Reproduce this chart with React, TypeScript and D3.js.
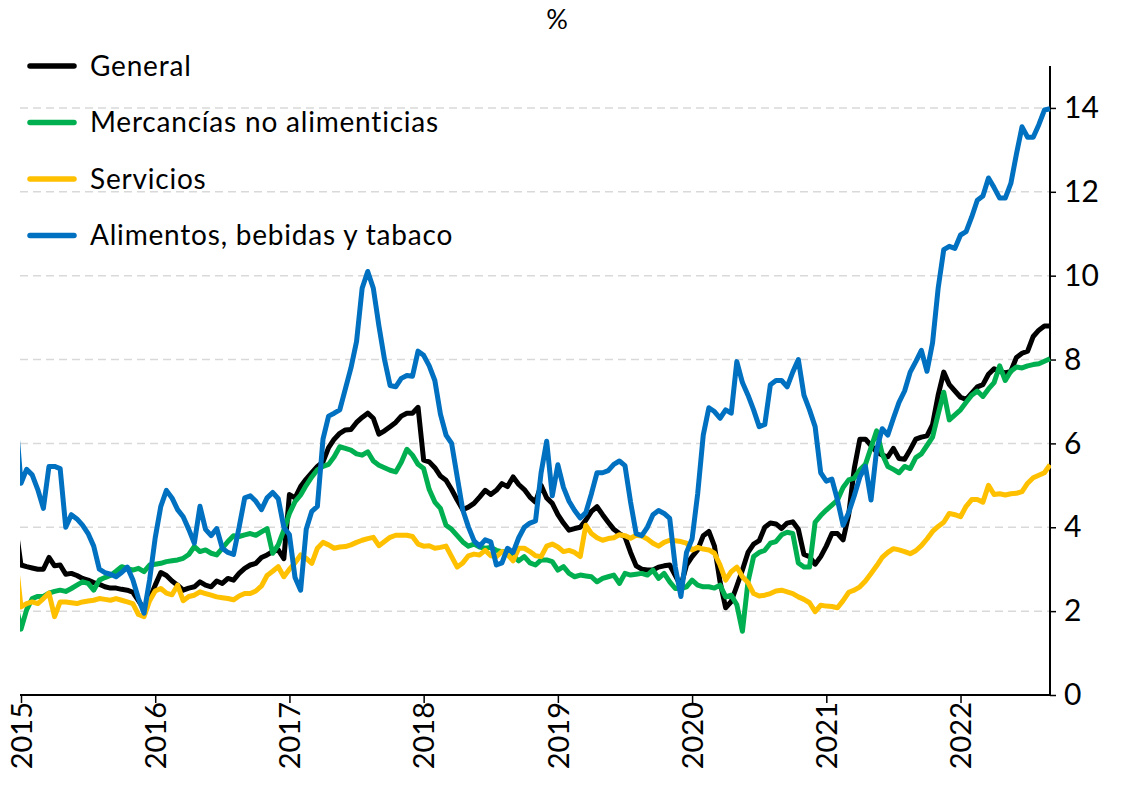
import { useEffect, useRef } from 'react';
import * as d3 from 'd3';

// variación anual en %, cifras quincenales
// el primer valor de cada serie es la 2a quincena de dic-2014 (queda recortado en el borde)
const general = [4.06,
  3.1, 3.06, 3.03, 3.0, 3.0, 3.28, 3.08, 3.1, 2.88, 2.9, 2.85, 2.78, 2.74, 2.68, 2.64, 2.58, 2.55, 2.55, 2.52, 2.5, 2.45, 2.25, 2.05, 2.3,
  2.62, 2.92, 2.85, 2.72, 2.62, 2.5, 2.55, 2.58, 2.7, 2.62, 2.58, 2.72, 2.66, 2.78, 2.74, 2.9, 3.02, 3.1, 3.14, 3.28, 3.34, 3.42, 3.46, 3.25,
  4.78, 4.7, 4.97, 5.15, 5.3, 5.45, 5.56, 5.9, 6.1, 6.24, 6.32, 6.33, 6.5, 6.62, 6.72, 6.6, 6.22, 6.3, 6.4, 6.5, 6.65, 6.72, 6.72, 6.86,
  5.6, 5.56, 5.42, 5.22, 5.12, 4.9, 4.65, 4.42, 4.48, 4.57, 4.72, 4.88, 4.78, 4.88, 5.04, 4.97, 5.2, 5.02, 4.9, 4.72, 4.6, 5.0, 4.7, 4.57,
  4.3, 4.1, 3.93, 3.97, 4.0, 4.17, 4.38, 4.49, 4.3, 4.12, 3.95, 3.85, 3.77, 3.4, 3.08, 3.0, 2.98, 2.98, 3.05, 3.08, 3.1, 2.85, 2.6, 3.1,
  3.3, 3.46, 3.8, 3.9, 3.55, 2.7, 2.08, 2.23, 2.6, 2.98, 3.4, 3.6, 3.68, 4.0, 4.1, 4.08, 3.97, 4.1, 4.13, 3.95, 3.35, 3.3, 3.12, 3.3,
  3.55, 3.85, 3.85, 3.7, 4.3, 5.4, 6.1, 6.1, 5.95, 5.8, 5.72, 5.68, 5.88, 5.64, 5.62, 5.85, 6.1, 6.15, 6.18, 6.45, 7.15, 7.7, 7.4, 7.25,
  7.1, 7.05, 7.2, 7.35, 7.4, 7.65, 7.78, 7.72, 7.68, 7.72, 8.05, 8.15, 8.2, 8.55, 8.7, 8.8, 8.8,
];

const mercancias = [2.2,
  1.57, 2.03, 2.3, 2.35, 2.35, 2.43, 2.47, 2.5, 2.47, 2.54, 2.62, 2.7, 2.66, 2.5, 2.74, 2.8, 2.85, 2.95, 3.06, 3.02, 2.98, 3.02, 2.94, 3.1,
  3.12, 3.14, 3.18, 3.2, 3.22, 3.26, 3.35, 3.54, 3.42, 3.46, 3.38, 3.34, 3.5, 3.66, 3.8, 3.78, 3.82, 3.85, 3.81, 3.89, 3.97, 3.38, 3.58, 3.93,
  4.33, 4.61, 4.77, 5.0, 5.2, 5.37, 5.45, 5.5, 5.68, 5.92, 5.88, 5.84, 5.75, 5.72, 5.8, 5.58, 5.48, 5.42, 5.36, 5.32, 5.55, 5.86, 5.72, 5.5,
  5.4, 4.9, 4.6, 4.45, 4.05, 3.95, 3.8, 3.65, 3.55, 3.6, 3.53, 3.5, 3.52, 3.45, 3.42, 3.4, 3.32, 3.2, 3.3, 3.15, 3.1, 3.22, 3.22, 3.18,
  2.98, 3.06, 2.9, 2.82, 2.86, 2.84, 2.82, 2.7, 2.78, 2.82, 2.86, 2.66, 2.9, 2.86, 2.88, 2.9, 2.86, 2.98, 2.78, 2.9, 2.7, 2.54, 2.54, 2.58,
  2.74, 2.62, 2.58, 2.58, 2.55, 2.62, 2.34, 2.38, 2.15, 1.52, 2.7, 3.3, 3.4, 3.45, 3.62, 3.66, 3.82, 3.88, 3.85, 3.15, 3.05, 3.05, 4.12, 4.28,
  4.41, 4.53, 4.65, 4.95, 5.13, 5.17, 5.37, 5.5, 5.9, 6.3, 5.75, 5.45, 5.38, 5.3, 5.45, 5.4, 5.66, 5.75, 5.95, 6.15, 6.7, 7.22, 6.56, 6.68,
  6.8, 6.98, 7.15, 7.25, 7.12, 7.3, 7.45, 7.85, 7.5, 7.72, 7.82, 7.8, 7.85, 7.88, 7.9, 7.96, 8.02,
];

const servicios = [3.32,
  2.1, 2.18, 2.22, 2.18, 2.3, 2.43, 1.87, 2.22, 2.22, 2.2, 2.18, 2.22, 2.24, 2.26, 2.3, 2.28, 2.26, 2.3, 2.26, 2.22, 2.18, 1.92, 1.87, 2.25,
  2.48, 2.54, 2.43, 2.39, 2.62, 2.25, 2.35, 2.38, 2.46, 2.42, 2.38, 2.34, 2.32, 2.3, 2.27, 2.36, 2.42, 2.42, 2.48, 2.6, 2.85, 2.95, 3.06, 2.82,
  3.0, 3.15, 3.34, 3.26, 3.14, 3.5, 3.64, 3.58, 3.5, 3.53, 3.54, 3.58, 3.64, 3.69, 3.73, 3.76, 3.56, 3.66, 3.76, 3.81, 3.81, 3.81, 3.78, 3.6,
  3.55, 3.56, 3.5, 3.52, 3.55, 3.3, 3.05, 3.15, 3.32, 3.36, 3.34, 3.45, 3.32, 3.3, 3.42, 3.35, 3.2, 3.5, 3.5, 3.42, 3.32, 3.3, 3.55, 3.6,
  3.53, 3.42, 3.45, 3.4, 3.3, 4.05, 3.85, 3.75, 3.69, 3.73, 3.75, 3.82, 3.8, 3.74, 3.81, 3.79, 3.72, 3.62, 3.55, 3.64, 3.69, 3.68, 3.66, 3.62,
  3.46, 3.52, 3.48, 3.46, 3.38, 3.1, 2.74, 2.94, 3.05, 2.82, 2.68, 2.42, 2.36, 2.38, 2.42, 2.48, 2.5, 2.46, 2.42, 2.34, 2.28, 2.2, 1.99, 2.14,
  2.12, 2.11, 2.08, 2.25, 2.45, 2.5, 2.58, 2.72, 2.9, 3.08, 3.28, 3.4, 3.49, 3.46, 3.42, 3.37, 3.44, 3.56, 3.72, 3.9, 4.02, 4.12, 4.33, 4.3,
  4.25, 4.5, 4.66, 4.66, 4.6, 5.0, 4.78, 4.8, 4.77, 4.8, 4.81, 4.85, 5.05, 5.18, 5.24, 5.3, 5.49,
];

const alimentos = [6.7,
  5.05, 5.38, 5.25, 4.9, 4.45, 5.45, 5.45, 5.4, 4.0, 4.3, 4.2, 4.05, 3.85, 3.55, 3.0, 2.92, 2.88, 2.82, 2.92, 3.05, 2.75, 2.3, 1.95, 2.75,
  3.75, 4.5, 4.88, 4.7, 4.42, 4.25, 3.95, 3.62, 4.5, 3.95, 3.8, 3.97, 3.5, 3.4, 3.35, 4.0, 4.7, 4.75, 4.62, 4.42, 4.7, 4.83, 4.68, 4.0,
  3.82, 2.8, 2.5, 3.95, 4.38, 4.5, 6.1, 6.65, 6.72, 6.8, 7.3, 7.8, 8.43, 9.7, 10.1, 9.7, 8.8, 8.0, 7.38, 7.35, 7.55, 7.62, 7.6, 8.2,
  8.1, 7.85, 7.5, 6.7, 6.2, 6.0, 5.2, 4.41, 4.01, 3.68, 3.55, 3.7, 3.65, 3.1, 3.15, 3.5, 3.4, 3.75, 4.0, 4.1, 4.15, 5.3, 6.05, 4.75,
  5.49, 4.95, 4.62, 4.4, 4.22, 4.35, 4.8, 5.3, 5.3, 5.35, 5.5, 5.58, 5.47, 4.6, 3.85, 3.8, 4.0, 4.3, 4.4, 4.33, 4.21, 3.05, 2.35, 3.4,
  3.72, 4.8, 6.2, 6.85, 6.76, 6.6, 6.8, 6.72, 7.95, 7.45, 7.15, 6.8, 6.4, 6.45, 7.4, 7.5, 7.5, 7.35, 7.7, 8.0, 7.15, 6.8, 6.4, 5.3,
  5.1, 5.15, 4.65, 4.05, 4.35, 4.75, 5.2, 5.45, 4.65, 5.85, 6.35, 6.2, 6.6, 6.98, 7.25, 7.7, 7.95, 8.22, 7.72, 8.4, 9.7, 10.62, 10.7, 10.65,
  10.97, 11.05, 11.4, 11.8, 11.9, 12.33, 12.1, 11.85, 11.85, 12.2, 12.9, 13.55, 13.3, 13.3, 13.6, 13.95, 13.98,
];

const nombres = ['General', 'Mercancías no alimenticias', 'Servicios', 'Alimentos, bebidas y tabaco'];
const colores = ['#000000', '#00b050', '#ffc000', '#0070c0'];
const anios = ['2015', '2016', '2017', '2018', '2019', '2020', '2021', '2022'];
const yTicks = [0, 2, 4, 6, 8, 10, 12, 14];

const FONT = 'Lato, "Open Sans", sans-serif';

const Chart = () => {
  const svgRef = useRef(null);

  useEffect(() => {
    document.body.style.margin = '0';
    const svg = d3.select(svgRef.current);
    svg.selectAll('*').remove();

    const left = 21, right = 1050, top = 66, bottom = 695;
    const nQ = general.length - 2; // ultimo indice quincenal (0 = 1a quincena ene-2015)

    const x = d3.scaleLinear().domain([0, nQ]).range([left, right]);
    const y = d3.scaleLinear().domain([0, 15]).range([bottom, top]);

    svg.append('defs').append('clipPath').attr('id', 'area')
      .append('rect').attr('x', left - 1).attr('y', 0).attr('width', right - left + 2).attr('height', bottom);

    // rejilla
    svg.append('g').selectAll('line')
      .data(yTicks.filter(d => d > 0))
      .join('line')
      .attr('x1', left - 1).attr('x2', right)
      .attr('y1', d => y(d)).attr('y2', d => y(d))
      .attr('stroke', '#d9d9d9')
      .attr('stroke-width', 1.5)
      .attr('stroke-dasharray', '8 5');

    // eje vertical derecho
    const yAxis = d3.axisRight(y).tickValues(yTicks).tickSize(6).tickPadding(8).tickFormat(d3.format('d'));
    const gY = svg.append('g').attr('transform', `translate(${right},0)`).call(yAxis);
    gY.select('.domain').attr('stroke', '#000').attr('stroke-width', 2).attr('d', `M0,${bottom}V${top}`);
    gY.selectAll('.tick line').attr('stroke', '#000').attr('stroke-width', 1.5);
    gY.selectAll('text').attr('fill', '#000').style('font-family', FONT).style('font-size', '30px');

    // eje horizontal
    const xAxis = d3.axisBottom(x).tickValues(anios.map((_, i) => i * 24)).tickSize(8).tickFormat((_, i) => anios[i]);
    const gX = svg.append('g').attr('transform', `translate(0,${bottom})`).call(xAxis);
    gX.select('.domain').attr('stroke', '#000').attr('stroke-width', 2).attr('d', `M${left - 1},0H${right}`);
    gX.selectAll('.tick line').attr('stroke', '#000').attr('stroke-width', 1.5);
    gX.selectAll('text')
      .attr('fill', '#000')
      .style('font-family', FONT)
      .style('font-size', '29px')
      .attr('text-anchor', 'end')
      .attr('dy', '0.35em')
      .attr('transform', 'translate(0,7) rotate(-90)')
      .attr('x', 0)
      .attr('y', 0);

    // series
    const series = [general, mercancias, servicios, alimentos];
    const linea = d3.line<number>().x((_, i) => x(i - 1)).y(d => y(d));
    svg.append('g').attr('clip-path', 'url(#area)')
      .selectAll('path')
      .data(series)
      .join('path')
      .attr('d', d => linea(d))
      .attr('fill', 'none')
      .attr('stroke', (_, i) => colores[i])
      .attr('stroke-width', 5)
      .attr('stroke-linejoin', 'round');

    // leyenda
    const leg = svg.append('g').selectAll('g')
      .data(nombres)
      .join('g')
      .attr('transform', (_, i) => `translate(0,${66 + i * 56.5})`);
    leg.append('line')
      .attr('x1', 30).attr('x2', 74).attr('y1', 0).attr('y2', 0)
      .attr('stroke', (_, i) => colores[i])
      .attr('stroke-width', 5.5)
      .attr('stroke-linecap', 'round');
    leg.append('text')
      .attr('x', 90).attr('y', 0).attr('dy', '0.35em')
      .style('font-family', FONT).style('font-size', '28px')
      .style('letter-spacing', '0.8px')
      .attr('fill', '#000')
      .text(d => d);

    svg.append('text')
      .attr('x', 557).attr('y', 20).attr('dy', '0.35em')
      .attr('text-anchor', 'middle')
      .style('font-family', FONT).style('font-size', '27px')
      .text('%');
  }, []);

  return <svg ref={svgRef} width={1127} height={786} style={{ display: 'block', background: '#fff' }} />;
};

export default function App() {
  return <Chart />;
}
